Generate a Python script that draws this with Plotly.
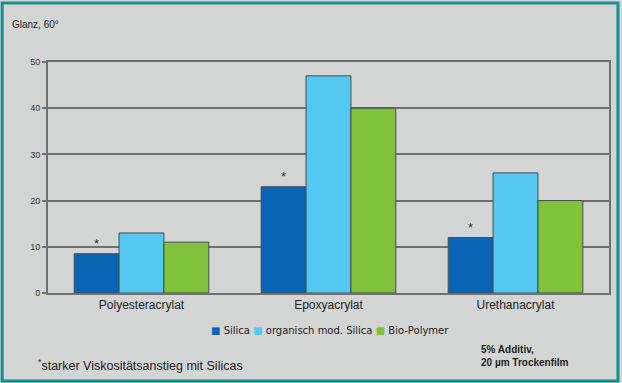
import plotly.graph_objects as go

# Gloss values (60°) per binder system and matting additive
categories = ["Polyesteracrylat", "Epoxyacrylat", "Urethanacrylat"]
silica = [8.5, 23, 12]
organisch_mod_silica = [13, 47, 26]
bio_polymer = [11, 40, 20]
series_names = ["Silica", "organisch mod. Silica", "Bio-Polymer"]
series_colors = ["#0a64b4", "#55c8f2", "#80c23c"]
y_ticks = [0, 10, 20, 30, 40, 50]

BG = "#d3d5d5"
GRID = "#6f7171"
FONT = "Liberation Sans, Arial, sans-serif"

PLOT_W, PLOT_H = 563, 231  # plot area size in px, used for paper-relative placement
ML, MB = 48, 90

def px_x(x):
    return (x - ML) / PLOT_W

def px_y(y):
    return (383 - MB - y) / PLOT_H

fig = go.Figure()
for name, vals, col in zip(series_names, [silica, organisch_mod_silica, bio_polymer], series_colors):
    fig.add_trace(go.Bar(
        x=categories, y=vals, name=name, showlegend=False,
        marker=dict(color=col, line=dict(color="#4a4c4c", width=1)),
    ))

# asterisk markers above the Silica bars (strong viscosity increase)
bargap = 0.28
bar_w = (1 - bargap) / 3
for i, v in enumerate(silica):
    fig.add_annotation(
        x=i - bar_w, y=v + 2.2, xref="x", yref="y", text="*",
        showarrow=False, font=dict(size=13, color="#333333", family=FONT),
    )

fig.update_layout(
    width=622, height=383,
    margin=dict(l=ML, r=11, t=62, b=MB),
    paper_bgcolor=BG, plot_bgcolor=BG,
    barmode="group", bargap=bargap, bargroupgap=0,
    font=dict(family=FONT, color="#222222"),
    showlegend=False,
    xaxis=dict(
        showline=True, linecolor=GRID, linewidth=2, mirror=True,
        tickfont=dict(size=12, color="#222222"), ticks="",
    ),
    yaxis=dict(
        range=[0, 50], tickvals=y_ticks, showgrid=True, gridcolor=GRID, gridwidth=1.8,
        showline=True, linecolor=GRID, linewidth=2, mirror=True,
        ticks="outside", ticklen=4, tickcolor=GRID, tickwidth=1.5,
        tickfont=dict(size=9, color="#333333"), zeroline=False,
    ),
)

# compact legend line built from the series names and colours
legend_text = " ".join(
    f'<span style="color:{c}">■</span> {n}' for n, c in zip(series_names, series_colors)
)
fig.add_annotation(
    x=px_x(331), y=px_y(330), xref="paper", yref="paper",
    text=legend_text, showarrow=False, xanchor="center", yanchor="middle",
    font=dict(size=10, color="#222222", family="DejaVu Sans, sans-serif"),
)

# Title, footnote and coating info
fig.add_annotation(
    x=px_x(10), y=px_y(25), xref="paper", yref="paper",
    text="Glanz, 60°", showarrow=False, xanchor="left", yanchor="middle",
    font=dict(size=10, color="#222222"),
)
fig.add_annotation(
    x=px_x(36), y=px_y(365), xref="paper", yref="paper",
    text="<sup>*</sup>starker Viskositätsanstieg mit Silicas", showarrow=False,
    xanchor="left", yanchor="middle", font=dict(size=12.5, color="#222222"),
)
fig.add_annotation(
    x=px_x(481), y=px_y(356), xref="paper", yref="paper",
    text="<b>5% Additiv,<br>20 µm Trockenfilm</b>", showarrow=False,
    xanchor="left", yanchor="middle", align="left",
    font=dict(size=10, color="#222222"),
)

# teal frame around the whole figure
fig.add_shape(
    type="rect", xref="paper", yref="paper",
    x0=px_x(2), x1=px_x(620), y0=px_y(381), y1=px_y(3),
    line=dict(color="#16908c", width=3), fillcolor="rgba(0,0,0,0)", layer="above",
)

fig.write_html("out.html")
